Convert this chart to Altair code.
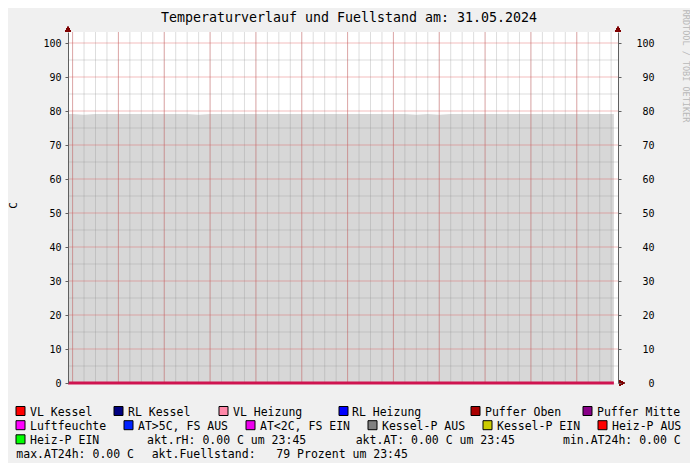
import altair as alt
import pandas as pd

# ---------------- data ----------------
title_text = "Temperaturverlauf und Fuellstand am: 31.05.2024"
y_title = "C"
credit = "RRDTOOL / TOBI OETIKER"

# time axis in hours relative to Fri 00:00 (30-minute samples)
hours = [-0.2] + [i * 0.5 for i in range(48)] + [23.62]

# fill level (percent) read from the grey area
fuellstand = [79.1, 79.1, 78.9, 79.1, 79.1, 79.1, 79.1, 79.1, 79.1, 79.1,
              79.1, 79.1, 78.9, 79.1, 79.1, 79.1, 79.1, 79.1, 79.1, 79.1,
              79.1, 79.1, 79.1, 79.1, 79.1, 79.1, 79.1, 79.1, 79.1, 79.1,
              79.1, 78.9, 79.1, 78.9, 79.1, 79.1, 79.1, 79.1, 79.1, 79.1,
              79.1, 79.1, 79.1, 79.1, 79.1, 79.1, 79.1, 79.1, 79.1, 79.1]

# all temperature series are 0.00 C
temperatur = [0.0, 0.0, 0.0, 0.0, 0.0, 0.0, 0.0, 0.0, 0.0, 0.0,
              0.0, 0.0, 0.0, 0.0, 0.0, 0.0, 0.0, 0.0, 0.0, 0.0,
              0.0, 0.0, 0.0, 0.0, 0.0, 0.0, 0.0, 0.0, 0.0, 0.0,
              0.0, 0.0, 0.0, 0.0, 0.0, 0.0, 0.0, 0.0, 0.0, 0.0,
              0.0, 0.0, 0.0, 0.0, 0.0, 0.0, 0.0, 0.0, 0.0, 0.0]

x_tick_values = [0, 2, 4, 6, 8, 10, 12, 14, 16, 18, 20, 22]
y_tick_values = [0, 10, 20, 30, 40, 50, 60, 70, 80, 90, 100]
x_minor = [i * 0.5 for i in range(48)]
x_major = [0, 2, 4, 6, 8, 10, 12, 14, 16, 18, 20, 22]
y_minor = [5, 15, 25, 35, 45, 55, 65, 75, 85, 95]
y_major = [10, 20, 30, 40, 50, 60, 70, 80, 90, 100]

legend_labels = ["VL Kessel", "RL Kessel", "VL Heizung", "RL Heizung", "Puffer Oben", "Puffer Mitte",
                 "Luftfeuchte", "AT>5C, FS AUS", "AT<2C, FS EIN", "Kessel-P AUS", "Kessel-P EIN", "Heiz-P AUS",
                 "Heiz-P EIN"]
legend_colors = ["#ff0000", "#000080", "#ff88a8", "#0000ff", "#aa0000", "#880088",
                 "#ff00ff", "#0022ff", "#ee00ee", "#808080", "#cccc00", "#ff0000",
                 "#00ff00"]
NB = "\u00a0"
info_texts = ["akt.rH: 0.00 C um 23:45", "akt.AT: 0.00 C um 23:45", "min.AT24h: 0.00 C",
              "max.AT24h: 0.00 C", "akt.Fuellstand:" + NB * 3 + "79 Prozent um 23:45"]

# ---------------- layout (pixels, relative to plot origin) ----------------
W, H = 550, 351
X_DOMAIN = [-0.2, 23.8]
Y_DOMAIN = [0, 103.24]
FONT = "DejaVu Sans Mono"

legend_sq_x = [-52, 46, 151, 271, 403, 515,
               -52, 56, 178, 300, 415, 530,
               -52]
legend_tx_x = [-38, 60, 165, 284, 417, 529,
               -38, 70, 192, 314, 429, 544,
               -38]
row_y = [379, 393.2, 407.3, 421.3]
TEXT_DY = 1.5
legend_row = [0, 0, 0, 0, 0, 0, 1, 1, 1, 1, 1, 1, 2]
info_x = [79, 287.7, 495, -51.7, 83.7]
info_row = [2, 2, 2, 3, 3]

# ---------------- frames ----------------
series = pd.DataFrame({"h": hours, "fuell": fuellstand, "temp": temperatur})
xs = alt.Scale(domain=X_DOMAIN, nice=False, zero=False)
ys = alt.Scale(domain=Y_DOMAIN, nice=False, zero=False)

leg = pd.DataFrame({
    "label": legend_labels,
    "color": legend_colors,
    "sx": legend_sq_x,
    "sx2": [v + 9 for v in legend_sq_x],
    "tx": legend_tx_x,
    "ty": [row_y[r] + TEXT_DY for r in legend_row],
    "sy": [row_y[r] - 4.5 for r in legend_row],
    "sy2": [row_y[r] + 4.5 for r in legend_row],
})
info = pd.DataFrame({"label": info_texts, "tx": info_x, "ty": [row_y[r] + TEXT_DY for r in info_row]})

GRID_MINOR = "rgba(143,143,143,0.30)"
GRID_MAJOR = "rgba(222,80,80,0.38)"
AXIS_COL = "#5f5f5f"
ARROW = "#7f0000"

area = alt.Chart(series).mark_area(color="#d7d7d7").encode(
    x=alt.X("h:Q", scale=xs, title=None,
            axis=alt.Axis(values=x_tick_values, grid=False, tickSize=3, tickColor=AXIS_COL,
                          domainColor=AXIS_COL, labelFont=FONT, labelFontSize=10, labelColor="black",
                          labelPadding=2, labelFlush=False, labelOverlap=False,
                          labelExpr="datum.value % 6 == 0 ? 'Fri ' + (datum.value < 10 ? '0' : '') + datum.value + ':00' : ''")),
    y=alt.Y("fuell:Q", scale=ys, title=None,
            axis=alt.Axis(orient="left", values=y_tick_values, grid=False, tickSize=3, tickColor=AXIS_COL,
                          domainColor=AXIS_COL, labelFont=FONT, labelFontSize=10, labelColor="black",
                          labelPadding=4, zindex=1)),
)

right_axis = alt.Chart(series).mark_line(opacity=0).encode(
    x=alt.X("h:Q", scale=xs, axis=None),
    y=alt.Y("fuell:Q", scale=ys, title=None,
            axis=alt.Axis(orient="right", values=y_tick_values, grid=False, tickSize=3, tickColor=AXIS_COL,
                          domainColor=AXIS_COL, labelFont=FONT, labelFontSize=10, labelColor="black",
                          labelAlign="right", labelPadding=33, zindex=1)),
)

vminor = alt.Chart(pd.DataFrame({"h": x_minor})).mark_rule(color=GRID_MINOR, strokeWidth=1).encode(
    x=alt.X("h:Q", scale=xs, axis=None))
hminor = alt.Chart(pd.DataFrame({"v": y_minor})).mark_rule(color=GRID_MINOR, strokeWidth=1).encode(
    y=alt.Y("v:Q", scale=ys, axis=None))
vmajor = alt.Chart(pd.DataFrame({"h": x_major})).mark_rule(color=GRID_MAJOR, strokeWidth=1).encode(
    x=alt.X("h:Q", scale=xs, axis=None))
hmajor = alt.Chart(pd.DataFrame({"v": y_major})).mark_rule(color=GRID_MAJOR, strokeWidth=1).encode(
    y=alt.Y("v:Q", scale=ys, axis=None))

zero_line = alt.Chart(series).mark_line(color="#cf1450", strokeWidth=3).encode(
    x=alt.X("h:Q", scale=xs, axis=None),
    y=alt.Y("temp:Q", scale=ys, axis=None),
)

arrow_up_l = alt.Chart(series).mark_point(shape="triangle-up", filled=True, color=ARROW, size=28, opacity=1, yOffset=-3).encode(
    x=alt.X(datum=X_DOMAIN[0], scale=xs, axis=None), y=alt.Y(datum=Y_DOMAIN[1], scale=ys, axis=None))
arrow_up_r = alt.Chart(series).mark_point(shape="triangle-up", filled=True, color=ARROW, size=28, opacity=1, yOffset=-3).encode(
    x=alt.X(datum=X_DOMAIN[1], scale=xs, axis=None), y=alt.Y(datum=Y_DOMAIN[1], scale=ys, axis=None))
arrow_right = alt.Chart(series).mark_point(shape="triangle-right", filled=True, color=ARROW, size=28, opacity=1, xOffset=4).encode(
    x=alt.X(datum=X_DOMAIN[1], scale=xs, axis=None), y=alt.Y(datum=0, scale=ys, axis=None))

squares = alt.Chart(leg).mark_rect(stroke="black", strokeWidth=1).encode(
    x=alt.X("sx:Q", scale=None, axis=None), x2="sx2:Q",
    y=alt.Y("sy:Q", scale=None, axis=None), y2="sy2:Q",
    color=alt.Color("color:N", scale=None),
)
leg_text = alt.Chart(leg).mark_text(font=FONT, fontSize=11.5, align="left", baseline="middle", color="black").encode(
    x=alt.X("tx:Q", scale=None, axis=None), y=alt.Y("ty:Q", scale=None, axis=None), text="label:N")
info_text = alt.Chart(info).mark_text(font=FONT, fontSize=11.5, align="left", baseline="middle", color="black").encode(
    x=alt.X("tx:Q", scale=None, axis=None), y=alt.Y("ty:Q", scale=None, axis=None), text="label:N")

title = alt.Chart(pd.DataFrame({"t": [title_text]})).mark_text(
    font=FONT, fontSize=13.3, align="center", baseline="middle", color="black").encode(
    x=alt.value(281), y=alt.value(-14), text="t:N")
ytitle = alt.Chart(pd.DataFrame({"t": [y_title]})).mark_text(
    font=FONT, fontSize=11, align="center", baseline="middle", color="black", angle=270).encode(
    x=alt.value(-54), y=alt.value(173.5), text="t:N")
credit_t = alt.Chart(pd.DataFrame({"t": [credit]})).mark_text(
    font=FONT, fontSize=8.5, align="center", baseline="middle", color="#b8b8b8", angle=90).encode(
    x=alt.value(617.5), y=alt.value(34), text="t:N")

chart = alt.layer(
    area, vminor, hminor, vmajor, hmajor, zero_line, right_axis,
    arrow_up_l, arrow_up_r, arrow_right,
    squares, leg_text, info_text, title, ytitle, credit_t,
).resolve_axis(y="independent").properties(
    width=W, height=H,
    padding={"left": 60, "top": 24, "right": 72, "bottom": 80},
    autosize="none",
).configure(background="#f0f0f0").configure_view(fill="white", stroke=None)

chart.save("out.html", embed_options={"renderer": "svg", "actions": False})
